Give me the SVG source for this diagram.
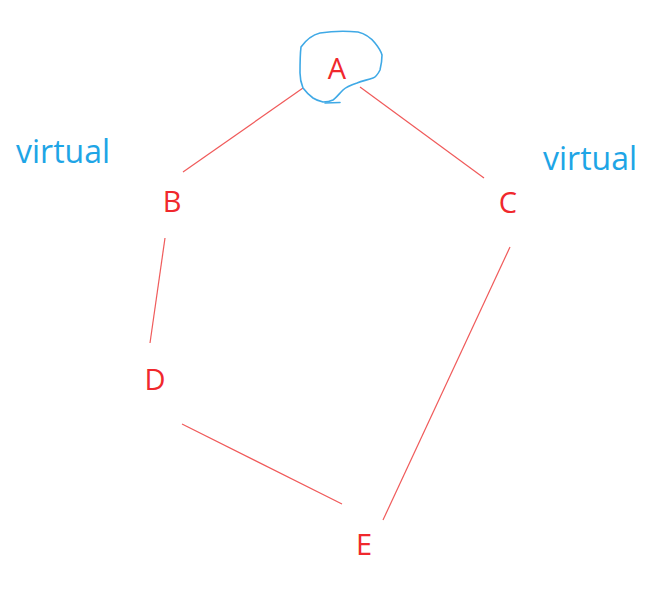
<svg xmlns="http://www.w3.org/2000/svg" width="669" height="590" viewBox="0 0 669 590">
<style>
.lbl{font-family:"Open Sans","Noto Sans","Liberation Sans",sans-serif;font-size:29px;fill:#f0282d;text-anchor:middle}
.v{font-family:"Open Sans","Noto Sans","Liberation Sans",sans-serif;font-size:32px;fill:#1ea5e6}
.e{stroke:#f05a5a;stroke-width:1.2;fill:none}
.mark{stroke:#3fa9e6;stroke-width:1.6;fill:none;stroke-linecap:round;stroke-linejoin:round}
</style>
<rect width="669" height="590" fill="#fff"/>
<g id="connectors">
<line class="e" x1="303" y1="88" x2="183" y2="172"/>
<line class="e" x1="360" y1="87" x2="484" y2="178"/>
<line class="e" x1="165" y1="238" x2="150" y2="343"/>
<line class="e" x1="510" y1="247" x2="383" y2="520"/>
<line class="e" x1="182" y1="424" x2="342" y2="504"/>
</g>
<g id="A">
<path class="mark" d="M301,47 C306,40 312,35 320,33 C333,31 347,31 358,32 C366,34 371,38 375,43 C379,48 381,51 382,55 C382,61 381,66 380,70 C378,74 376,77 373,78 C367,80 362,81 357,83 C351,85 346,87 343,90 C339,94 336,98 333,100 C329,102 326,102 323,102 C319,101 316,100 313,98 C309,95 306,92 303,88 C301,83 300,78 300,73 C300,64 300,55 301,47"/>
<path class="mark" d="M325,103 L340,102.5"/>
<text class="lbl" x="337" y="79">A</text>
</g>
<g id="B"><text class="lbl" x="172" y="212">B</text></g>
<g id="C"><text class="lbl" x="508" y="213">C</text></g>
<g id="D"><text class="lbl" x="155" y="390">D</text></g>
<g id="E"><text class="lbl" x="364" y="555">E</text></g>
<g id="virtual-left"><text class="v" x="16" y="163">virtual</text></g>
<g id="virtual-right"><text class="v" x="543" y="170">virtual</text></g>
</svg>
